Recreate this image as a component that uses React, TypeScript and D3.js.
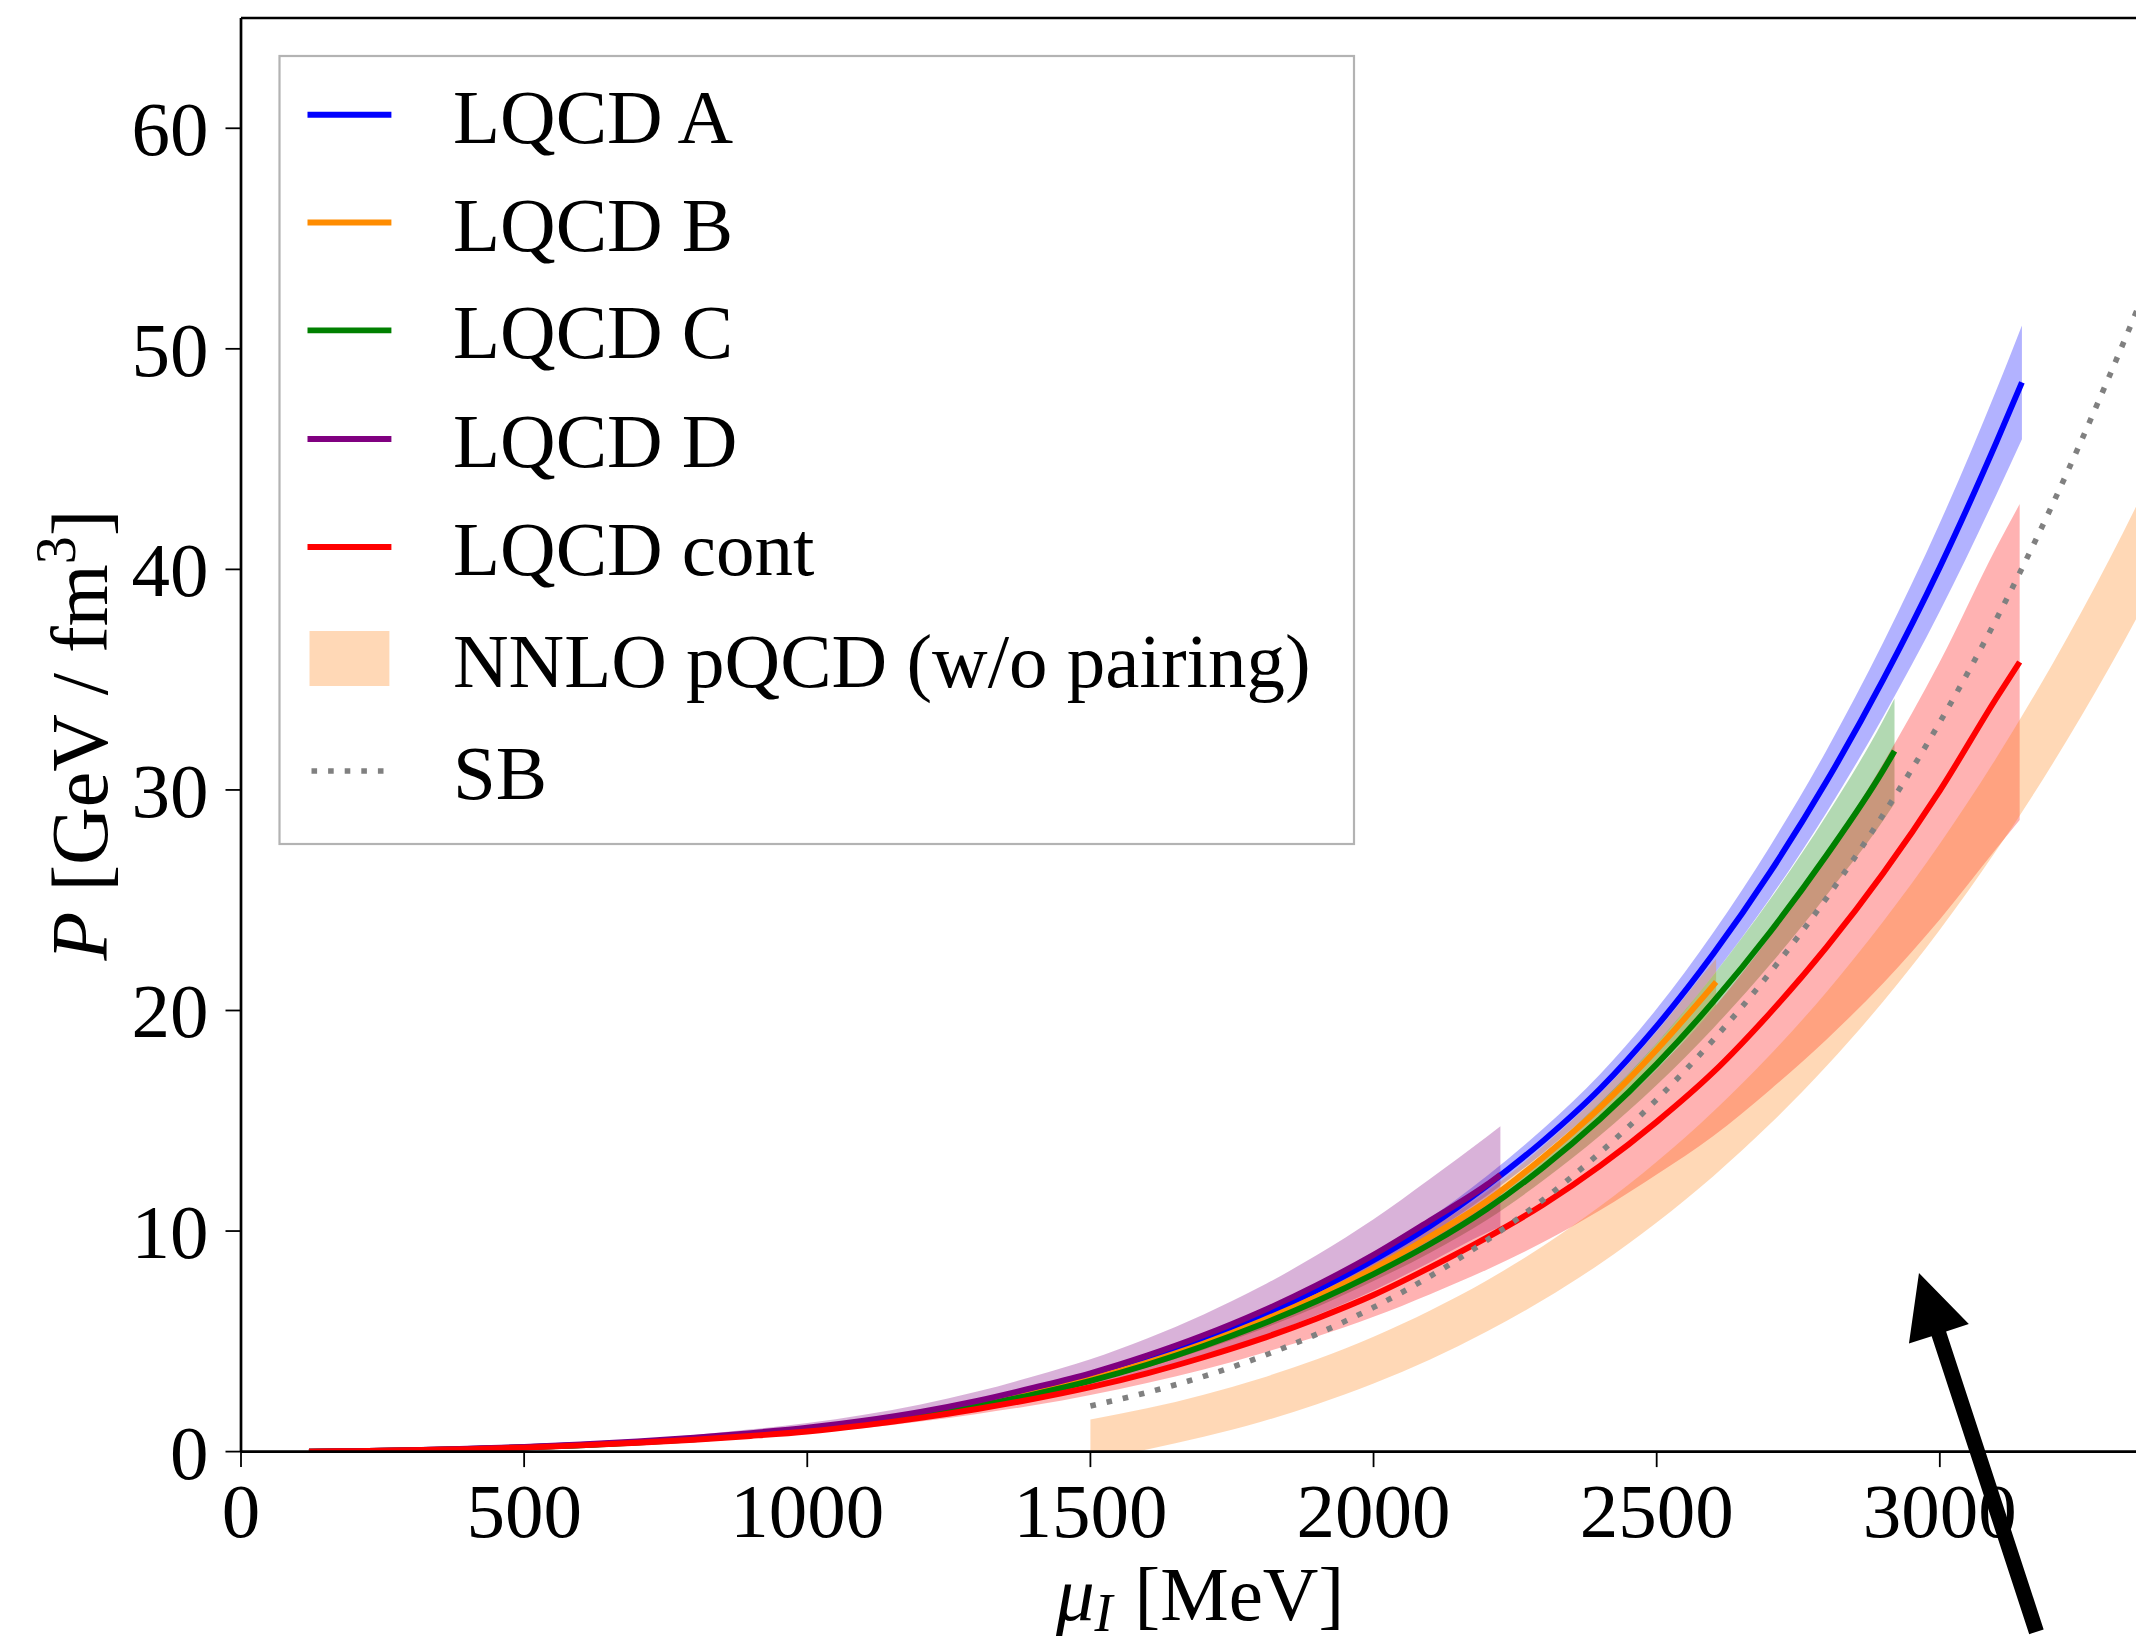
import React from "react";
import * as d3 from "d3";

// Canvas and plot frame (pixels)
const WIDTH = 2136;
const HEIGHT = 1645;
const PLOT = { left: 241, right: 2155, top: 18, bottom: 1451.6 };

// Axis limits and ticks
const X_DOMAIN = [0, 3380];
const Y_DOMAIN = [0, 65];
const xTicks = [0, 500, 1000, 1500, 2000, 2500, 3000];
const yTicks = [0, 10, 20, 30, 40, 50, 60];

// LQCD A
const muA = [120, 200, 300, 400, 500, 600, 700, 800, 900, 1000, 1100, 1200, 1300, 1400, 1500, 1600, 1700, 1800, 1900, 2000, 2100, 2200, 2300, 2400, 2500, 2600, 2700, 2800, 2900, 3000, 3100, 3145];
const pA = [0, 0.02, 0.06, 0.12, 0.2, 0.3, 0.43, 0.59, 0.78, 1.0, 1.33, 1.73, 2.21, 2.77, 3.42, 4.17, 5.05, 6.11, 7.32, 8.68, 10.23, 12.05, 14.1, 16.45, 19.29, 22.57, 26.26, 30.39, 35.0, 40.1, 45.77, 48.48];
const pALow = [0, 0.02, 0.059, 0.118, 0.196, 0.294, 0.421, 0.578, 0.764, 0.98, 1.3, 1.69, 2.15, 2.69, 3.32, 4.04, 4.89, 5.91, 7.07, 8.38, 9.86, 11.6, 13.55, 15.79, 18.5, 21.6, 25.08, 28.98, 33.32, 38.1, 43.4, 45.9];
const pAHigh = [0, 0.02, 0.061, 0.122, 0.204, 0.306, 0.439, 0.602, 0.796, 1.02, 1.36, 1.77, 2.27, 2.85, 3.52, 4.3, 5.21, 6.31, 7.57, 8.98, 10.6, 12.5, 14.65, 17.11, 20.08, 23.54, 27.44, 31.8, 36.68, 42.1, 48.14, 51.06];

// LQCD B
const muB = [120, 200, 300, 400, 500, 600, 700, 800, 900, 1000, 1100, 1200, 1300, 1400, 1500, 1600, 1700, 1800, 1900, 2000, 2100, 2200, 2300, 2400, 2500, 2600, 2605];
const pB = [0, 0.02, 0.058, 0.115, 0.195, 0.295, 0.42, 0.575, 0.765, 0.985, 1.3, 1.68, 2.14, 2.68, 3.3, 4.04, 4.9, 5.9, 7.03, 8.3, 9.75, 11.35, 13.35, 15.6, 18.22, 21.14, 21.29];
const pBLow = [0, 0.02, 0.057, 0.113, 0.191, 0.289, 0.412, 0.564, 0.75, 0.965, 1.27, 1.64, 2.08, 2.6, 3.2, 3.91, 4.74, 5.71, 6.79, 8.01, 9.4, 10.93, 12.84, 14.98, 17.4, 20.08, 20.23];
const pBHigh = [0, 0.02, 0.059, 0.117, 0.199, 0.301, 0.428, 0.586, 0.78, 1.005, 1.33, 1.72, 2.2, 2.76, 3.4, 4.17, 5.06, 6.09, 7.27, 8.59, 10.1, 11.77, 13.86, 16.22, 19.04, 22.2, 22.35];

// LQCD C
const muC = [120, 200, 300, 400, 500, 600, 700, 800, 900, 1000, 1100, 1200, 1300, 1400, 1500, 1600, 1700, 1800, 1900, 2000, 2100, 2200, 2300, 2400, 2500, 2600, 2700, 2800, 2900, 2920];
const pC = [0, 0.02, 0.055, 0.11, 0.19, 0.29, 0.41, 0.56, 0.75, 0.97, 1.27, 1.63, 2.07, 2.6, 3.21, 3.94, 4.79, 5.75, 6.83, 8.05, 9.41, 11.0, 12.9, 15.08, 17.57, 20.4, 23.55, 27.04, 30.89, 31.77];
const pCLow = [0, 0.02, 0.054, 0.108, 0.186, 0.284, 0.402, 0.549, 0.735, 0.95, 1.24, 1.59, 2.02, 2.53, 3.11, 3.81, 4.62, 5.53, 6.56, 7.73, 9.02, 10.5, 12.3, 14.33, 16.62, 19.2, 22.07, 25.23, 28.62, 29.39];
const pCHigh = [0, 0.02, 0.056, 0.112, 0.194, 0.296, 0.418, 0.571, 0.765, 0.99, 1.3, 1.67, 2.12, 2.67, 3.31, 4.07, 4.96, 5.97, 7.1, 8.37, 9.8, 11.5, 13.5, 15.83, 18.52, 21.6, 25.03, 28.85, 33.16, 34.15];

// LQCD D
const muD = [120, 200, 300, 400, 500, 600, 700, 800, 900, 1000, 1100, 1200, 1300, 1400, 1500, 1600, 1700, 1800, 1900, 2000, 2100, 2200, 2224];
const pD = [0, 0.02, 0.06, 0.13, 0.21, 0.32, 0.46, 0.63, 0.84, 1.08, 1.4, 1.8, 2.3, 2.9, 3.55, 4.35, 5.27, 6.33, 7.55, 8.92, 10.48, 12.1, 12.55];
const pDLow = [0, 0.016, 0.048, 0.104, 0.168, 0.256, 0.368, 0.504, 0.672, 0.864, 1.13, 1.46, 1.88, 2.38, 2.91, 3.57, 4.32, 5.19, 6.19, 7.31, 8.59, 9.92, 10.18];
const pDHigh = [0, 0.024, 0.072, 0.156, 0.252, 0.384, 0.552, 0.756, 1.008, 1.296, 1.67, 2.14, 2.72, 3.42, 4.19, 5.13, 6.22, 7.47, 8.91, 10.53, 12.37, 14.28, 14.75];

// LQCD continuum
const muCont = [120, 200, 300, 400, 500, 600, 700, 800, 900, 1000, 1100, 1200, 1300, 1400, 1500, 1600, 1700, 1800, 1900, 2000, 2100, 2200, 2300, 2400, 2500, 2600, 2700, 2800, 2900, 3000, 3100, 3141];
const pCont = [0, 0.02, 0.06, 0.11, 0.18, 0.28, 0.4, 0.54, 0.71, 0.91, 1.19, 1.53, 1.93, 2.39, 2.92, 3.55, 4.28, 5.1, 6.04, 7.1, 8.35, 9.7, 11.2, 12.95, 14.95, 17.2, 19.88, 22.87, 26.22, 29.97, 34.17, 35.8];
const pContLow = [0, 0.018, 0.055, 0.1, 0.165, 0.255, 0.365, 0.49, 0.645, 0.82, 1.065, 1.36, 1.71, 2.1, 2.57, 3.11, 3.72, 4.44, 5.22, 6.11, 7.14, 8.25, 9.5, 10.94, 12.56, 14.31, 16.4, 18.69, 21.24, 24.13, 27.34, 28.64];
const pContHigh = [0, 0.022, 0.065, 0.12, 0.195, 0.305, 0.435, 0.59, 0.775, 1.0, 1.315, 1.7, 2.15, 2.68, 3.27, 3.99, 4.84, 5.76, 6.86, 8.09, 9.56, 11.16, 12.9, 14.96, 17.34, 20.09, 23.36, 27.06, 31.2, 35.81, 41.0, 42.96];

// NNLO pQCD band (without pairing)
const muPQCD = [1500, 1600, 1700, 1800, 1900, 2000, 2100, 2200, 2300, 2400, 2500, 2600, 2700, 2800, 2900, 3000, 3100, 3200, 3300, 3400];
const pPQCDLow = [-0.38, 0.1, 0.67, 1.34, 2.15, 3.09, 4.18, 5.44, 6.88, 8.52, 10.39, 12.49, 14.85, 17.48, 20.41, 23.66, 27.26, 31.22, 35.57, 40.33];
const pPQCDHigh = [1.45, 1.96, 2.58, 3.32, 4.19, 5.21, 6.4, 7.76, 9.33, 11.12, 13.14, 15.42, 17.98, 20.84, 24.03, 27.56, 31.46, 35.76, 40.48, 45.65];

// Stefan-Boltzmann limit
const muSB = [1500, 1600, 1700, 1800, 1900, 2000, 2100, 2200, 2300, 2400, 2500, 2600, 2700, 2800, 2900, 3000, 3100, 3200, 3300, 3400];
const pSB = [2.07, 2.68, 3.41, 4.29, 5.33, 6.54, 7.95, 9.58, 11.43, 13.56, 15.96, 18.67, 21.71, 25.1, 28.88, 33.07, 37.75, 43.0, 48.8, 55.0];

// Annotation arrow (tail -> tip), data coordinates
const arrowTail = [3170.6, -8.17];
const arrowTip = [2963.2, 8.1];

const legendLabels = ["LQCD A", "LQCD B", "LQCD C", "LQCD D", "LQCD cont", "NNLO pQCD (w/o pairing)", "SB"];

const FONT = "'Liberation Serif', 'Times New Roman', serif";

type Series = { label: string; color: string; mu: number[]; p: number[]; lo: number[]; hi: number[] };

const lattice: Series[] = [
  { label: legendLabels[0], color: "#0000ff", mu: muA, p: pA, lo: pALow, hi: pAHigh },
  { label: legendLabels[1], color: "#ff8c00", mu: muB, p: pB, lo: pBLow, hi: pBHigh },
  { label: legendLabels[2], color: "#008000", mu: muC, p: pC, lo: pCLow, hi: pCHigh },
  { label: legendLabels[3], color: "#800080", mu: muD, p: pD, lo: pDLow, hi: pDHigh },
  { label: legendLabels[4], color: "#ff0000", mu: muCont, p: pCont, lo: pContLow, hi: pContHigh },
];
const PQCD_COLOR = "#ff7f0e";
const SB_COLOR = "#808080";

export default function App() {
  const x = d3.scaleLinear().domain(X_DOMAIN).range([PLOT.left, PLOT.right]);
  const y = d3.scaleLinear().domain(Y_DOMAIN).range([PLOT.bottom, PLOT.top]);

  const linePath = (mu: number[], p: number[]) =>
    d3
      .line<number>()
      .x((_, i) => x(mu[i]))
      .y((d) => y(d))
      .curve(d3.curveMonotoneX)(p) || "";

  const areaPath = (mu: number[], lo: number[], hi: number[]) =>
    d3
      .area<number>()
      .x((_, i) => x(mu[i]))
      .y0((d) => y(d))
      .y1((_, i) => y(hi[i]))
      .curve(d3.curveMonotoneX)(lo) || "";

  const LW = 5.9;
  const tickFont = 77;

  // arrow polygon
  const tx = x(arrowTip[0]);
  const ty = y(arrowTip[1]);
  const sx = x(arrowTail[0]);
  const sy = y(arrowTail[1]);
  const len = Math.hypot(tx - sx, ty - sy);
  const ux = (tx - sx) / len;
  const uy = (ty - sy) / len;
  const nx = -uy;
  const ny = ux;
  const headLen = 64;
  const headHalf = 31.5;
  const shaftHalf = 7.6;
  const bx = tx - ux * headLen;
  const by = ty - uy * headLen;
  const arrowPts = [
    [sx + nx * shaftHalf, sy + ny * shaftHalf],
    [bx + nx * shaftHalf, by + ny * shaftHalf],
    [bx + nx * headHalf, by + ny * headHalf],
    [tx, ty],
    [bx - nx * headHalf, by - ny * headHalf],
    [bx - nx * shaftHalf, by - ny * shaftHalf],
    [sx - nx * shaftHalf, sy - ny * shaftHalf],
  ]
    .map((p) => p.join(","))
    .join(" ");

  // legend layout
  const legBox = { x: 279.5, y: 56, w: 1074.5, h: 788 };
  const rowY = [114.8, 222.5, 330.4, 439, 547, 658.5, 771];
  const handleX0 = 307.5;
  const handleX1 = 391.4;
  const textX = 453;

  return (
    <svg
      width={WIDTH}
      height={HEIGHT}
      viewBox={`0 0 ${WIDTH} ${HEIGHT}`}
      style={{ position: "absolute", left: 0, top: 0, background: "#ffffff" }}
      fontFamily={FONT}
    >
      <defs>
        <clipPath id="plot-clip">
          <rect x={PLOT.left} y={PLOT.top} width={PLOT.right - PLOT.left} height={PLOT.bottom - PLOT.top} />
        </clipPath>
      </defs>
      <rect x={0} y={0} width={WIDTH} height={HEIGHT} fill="#ffffff" />

      <g clipPath="url(#plot-clip)">
        {lattice.map((s) => (
          <path key={`band-${s.label}`} d={areaPath(s.mu, s.lo, s.hi)} fill={s.color} fillOpacity={0.3} stroke="none" />
        ))}
        <path d={areaPath(muPQCD, pPQCDLow, pPQCDHigh)} fill={PQCD_COLOR} fillOpacity={0.3} stroke="none" />
        {lattice.map((s) => (
          <path key={`line-${s.label}`} d={linePath(s.mu, s.p)} fill="none" stroke={s.color} strokeWidth={LW} />
        ))}
        <path d={linePath(muSB, pSB)} fill="none" stroke={SB_COLOR} strokeWidth={5.6} strokeDasharray="5.6 11" />
      </g>

      {/* spines */}
      <g stroke="#000" strokeWidth={2.7} fill="none">
        <line x1={PLOT.left} y1={PLOT.top} x2={PLOT.left} y2={PLOT.bottom} />
        <line x1={PLOT.left} y1={PLOT.bottom} x2={PLOT.right} y2={PLOT.bottom} />
        <line x1={PLOT.left} y1={PLOT.top} x2={PLOT.right} y2={PLOT.top} />
        <line x1={PLOT.right} y1={PLOT.top} x2={PLOT.right} y2={PLOT.bottom} />
      </g>

      {/* x axis ticks */}
      <g>
        {xTicks.map((t) => (
          <g key={`xt-${t}`}>
            <line x1={x(t)} x2={x(t)} y1={PLOT.bottom} y2={PLOT.bottom + 15.5} stroke="#000" strokeWidth={1.8} />
            <text x={x(t)} y={1537} textAnchor="middle" fontSize={tickFont} fill="#000">
              {t}
            </text>
          </g>
        ))}
      </g>

      {/* y axis ticks */}
      <g>
        {yTicks.map((t) => (
          <g key={`yt-${t}`}>
            <line x1={PLOT.left - 15.5} x2={PLOT.left} y1={y(t)} y2={y(t)} stroke="#000" strokeWidth={1.8} />
            <text x={208.5} y={y(t) + 27} textAnchor="end" fontSize={tickFont} fill="#000">
              {t}
            </text>
          </g>
        ))}
      </g>

      {/* axis labels */}
      <text x={1200} y={1620} textAnchor="middle" fontSize={tickFont} fill="#000">
        <tspan fontStyle="italic">μ</tspan>
        <tspan fontStyle="italic" fontSize={54} dy={11}>I</tspan>
        <tspan dy={-11} dx={22}>[MeV]</tspan>
      </text>
      <text transform={`translate(107,735) rotate(-90)`} textAnchor="middle" fontSize={80} fill="#000">
        <tspan fontStyle="italic">P</tspan>
        <tspan dx={20}>[GeV / fm</tspan>
        <tspan fontSize={56} dy={-32}>3</tspan>
        <tspan dy={32}>]</tspan>
      </text>

      {/* legend */}
      <g>
        <rect x={legBox.x} y={legBox.y} width={legBox.w} height={legBox.h} fill="#ffffff" fillOpacity={0.8} stroke="#b3b3b3" strokeWidth={2.2} />
        {lattice.map((s, i) => (
          <line key={`lh-${s.label}`} x1={handleX0} x2={handleX1} y1={rowY[i]} y2={rowY[i]} stroke={s.color} strokeWidth={LW} />
        ))}
        <rect x={handleX0 + 2} y={rowY[5] - 27.5} width={handleX1 - handleX0 - 4} height={55} fill={PQCD_COLOR} fillOpacity={0.3} />
        <line x1={handleX0 + 4} x2={handleX1} y1={rowY[6]} y2={rowY[6]} stroke={SB_COLOR} strokeWidth={5.6} strokeDasharray="5.6 11" />
        {legendLabels.map((l, i) => (
          <text key={`lt-${l}`} x={textX} y={rowY[i] + 28} fontSize={77} fill="#000">
            {l}
          </text>
        ))}
      </g>

      {/* annotation arrow */}
      <polygon points={arrowPts} fill="#000" stroke="none" />
    </svg>
  );
}
